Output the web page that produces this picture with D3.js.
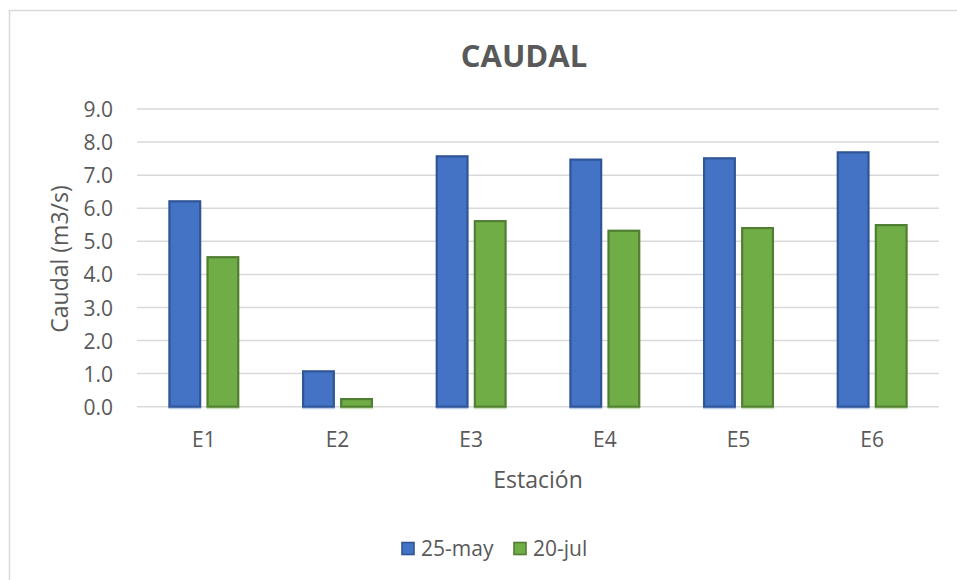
<!DOCTYPE html>
<html>
<head>
<meta charset="utf-8">
<script src="https://cdn.jsdelivr.net/npm/d3@7"></script>
<style>
  html, body { margin: 0; padding: 0; background: #fff; }
  svg { display: block; font-family: "Open Sans", sans-serif; }
</style>
</head>
<body>
<svg id="chart" width="957" height="580"></svg>
<script>
const categories = ["E1", "E2", "E3", "E4", "E5", "E6"];
const seriesNames = ["25-may", "20-jul"];
const may25 = [6.24, 1.10, 7.60, 7.50, 7.54, 7.72];
const jul20 = [4.55, 0.26, 5.64, 5.35, 5.43, 5.52];
const yTicks = [0, 1, 2, 3, 4, 5, 6, 7, 8, 9];
const title = "CAUDAL";
const xTitle = "Estación";
const yTitle = "Caudal (m3/s)";

const fills = ["#4472C4", "#70AD47"];
const strokes = ["#2F5597", "#507E32"];
const seriesValues = [may25, jul20];

const svg = d3.select("#chart");
const plot = { left: 137, right: 939, top: 109, bottom: 406.7 };

// chart frame border
svg.append("path")
  .attr("d", "M9.5,580 L9.5,10.5 L957,10.5")
  .attr("fill", "none").attr("stroke", "#D9D9D9").attr("stroke-width", 1.5);

const x0 = d3.scaleBand().domain(categories).range([plot.left, plot.right])
  .paddingInner(0.47).paddingOuter(0.235);
const x1 = d3.scaleBand().domain(seriesNames).range([0, x0.bandwidth()])
  .paddingInner(0.14);
const y = d3.scaleLinear().domain([0, 9]).range([plot.bottom, plot.top]);

// gridlines
svg.append("g").selectAll("line").data(yTicks).join("line")
  .attr("x1", plot.left).attr("x2", plot.right)
  .attr("y1", d => y(d)).attr("y2", d => y(d))
  .attr("stroke", "#D9D9D9").attr("stroke-width", 1.5);

// y tick labels
const yAxis = d3.axisLeft(y).tickValues(yTicks).tickFormat(d3.format(".1f")).tickSize(0).tickPadding(0);
const gy = svg.append("g").attr("transform", `translate(113,0)`).call(yAxis);
gy.select(".domain").remove();
gy.selectAll("text").attr("font-size", 21).attr("fill", "#595959")
  .attr("font-family", "Open Sans, sans-serif").attr("dy", "0.36em");

// bars
const groups = svg.append("g").selectAll("g").data(categories).join("g")
  .attr("transform", d => `translate(${x0(d)},0)`);
seriesNames.forEach((s, si) => {
  groups.append("rect")
    .attr("x", x1(s) + 1)
    .attr("y", (d, i) => y(seriesValues[si][i]) + 1)
    .attr("width", x1.bandwidth() - 2)
    .attr("height", (d, i) => Math.max(0, y(0) - y(seriesValues[si][i]) - 1))
    .attr("fill", fills[si]).attr("stroke", strokes[si]).attr("stroke-width", 2.2);
  // light reflection at base
  groups.append("rect")
    .attr("x", x1(s))
    .attr("y", y(0))
    .attr("width", x1.bandwidth())
    .attr("height", 2.5)
    .attr("fill", fills[si]).attr("opacity", 0.35);
});

// x tick labels
const xAxis = d3.axisBottom(x0).tickSize(0).tickPadding(0);
const gx = svg.append("g").attr("transform", `translate(0,447)`).call(xAxis);
gx.select(".domain").remove();
gx.selectAll("text").attr("font-size", 21).attr("fill", "#595959")
  .attr("font-family", "Open Sans, sans-serif").attr("dy", "0");

// titles
svg.append("text").attr("x", 524).attr("y", 67).attr("text-anchor", "middle")
  .attr("font-size", 31).attr("font-weight", "bold").attr("fill", "#595959").text(title);
svg.append("text").attr("x", (plot.left + plot.right) / 2).attr("y", 488).attr("text-anchor", "middle")
  .attr("font-size", 23).attr("fill", "#595959").text(xTitle);
svg.append("text").attr("transform", `translate(68,259) rotate(-90)`).attr("text-anchor", "middle")
  .attr("font-size", 23).attr("fill", "#595959").text(yTitle);

// legend
const legendItems = [{ x: 402, tx: 421 }, { x: 514, tx: 533 }];
const lg = svg.append("g");
seriesNames.forEach((s, i) => {
  lg.append("rect").attr("x", legendItems[i].x).attr("y", 542.5).attr("width", 12).attr("height", 12)
    .attr("fill", fills[i]).attr("stroke", strokes[i]).attr("stroke-width", 1.6);
  lg.append("text").attr("x", legendItems[i].tx).attr("y", 556)
    .attr("font-size", 21).attr("fill", "#595959").text(s);
});
</script>
</body>
</html>
